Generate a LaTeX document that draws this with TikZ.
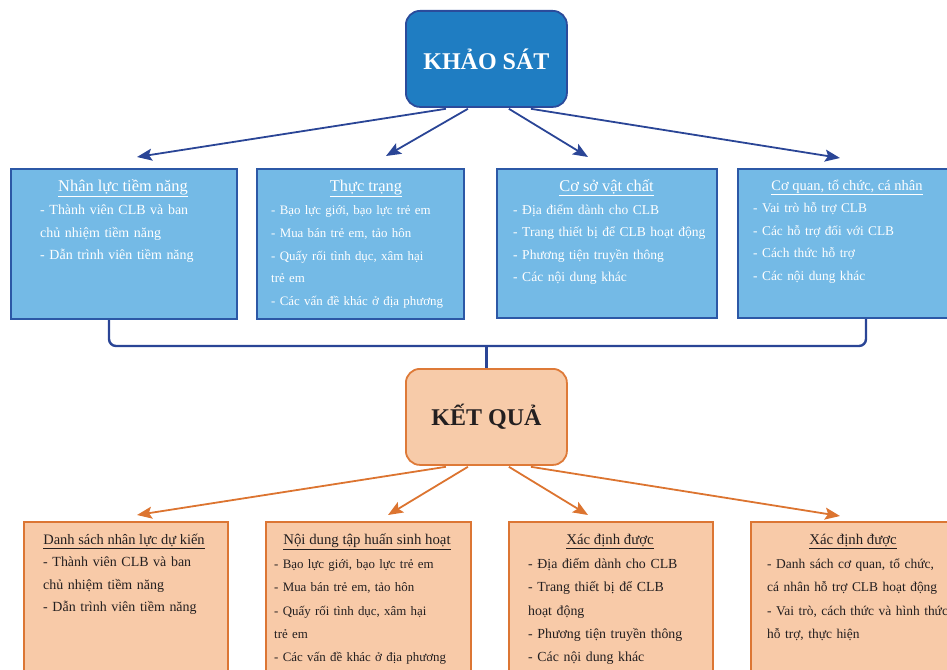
\documentclass[tikz,border=0pt]{standalone}
\usepackage{fontspec}
\setmainfont{Liberation Serif}
\usetikzlibrary{arrows.meta,calc}
\definecolor{ksfill}{RGB}{31,125,194}
\definecolor{ksborder}{RGB}{43,75,155}
\definecolor{bfill}{RGB}{116,186,230}
\definecolor{bborder}{RGB}{44,88,166}
\definecolor{conncol}{RGB}{42,69,150}
\definecolor{kqfill}{RGB}{247,203,169}
\definecolor{kqborder}{RGB}{222,122,56}
\definecolor{ofill}{RGB}{248,202,168}
\definecolor{oborder}{RGB}{220,118,52}
\definecolor{ocol}{RGB}{220,116,48}
\definecolor{darktext}{RGB}{35,31,32}
\begin{document}
\begin{tikzpicture}[x=1pt,y=-1pt,
  mainbox/.style={line width=1.8pt, rounded corners=14pt, minimum width=161pt,
    minimum height=96pt, anchor=north west, inner sep=0pt,
    font=\fontsize{24}{28}\selectfont\bfseries},
  ksbox/.style={mainbox, draw=ksborder, fill=ksfill, text=white},
  kqbox/.style={mainbox, draw=kqborder, fill=kqfill, text=darktext},
  bluebox/.style={draw=bborder, fill=bfill, line width=2pt, anchor=north west, inner sep=0pt},
  orangebox/.style={draw=oborder, fill=ofill, line width=2pt, anchor=north west, inner sep=0pt},
  btitle/.style={anchor=base, inner sep=0pt, text=white, font=\fontsize{16.4}{20}\selectfont},
  otitle/.style={anchor=base, inner sep=0pt, text=darktext, font=\fontsize{14.8}{18}\selectfont},
  bbody/.style={anchor=base west, inner sep=0pt, text=white, align=left, text width=205pt},
  obody/.style={anchor=base west, inner sep=0pt, text=darktext, align=left, text width=205pt},
  barrow/.style={draw=conncol, line width=1.8pt, -{Stealth[length=15pt,width=12pt,inset=3pt]}},
  oarrow/.style={draw=ocol, line width=1.8pt, -{Stealth[length=15pt,width=12pt,inset=3pt]}},
  conn/.style={draw=conncol, line width=2.4pt, rounded corners=7pt}
]
\useasboundingbox (0,0) rectangle (947,669);
\clip (0,0) rectangle (947,669);

% main boxes
\node[ksbox] (ks) at (405,10) {KHẢO SÁT};
\node[kqbox] (kq) at (405,368) {KẾT QUẢ};

% blue boxes
\node[bluebox, minimum width=226pt, minimum height=150pt] (b1) at (10,168) {};
\node[bluebox, minimum width=207pt, minimum height=150pt] (b2) at (256,168) {};
\node[bluebox, minimum width=220pt, minimum height=149pt] (b3) at (496,168) {};
\node[bluebox, minimum width=220pt, minimum height=149pt] (b4) at (737,168) {};

\node[btitle] (bt1) at (123,191) {\underline{Nhân lực tiềm năng}};
\node[btitle] (bt2) at (366,191) {\underline{Thực trạng}};
\node[btitle] (bt3) at (606.5,191) {\underline{Cơ sở vật chất}};
\node[btitle, font=\fontsize{14.5}{18}\selectfont] (bt4) at (847,190) {\underline{Cơ quan, tổ chức, cá nhân}};

\node[bbody, font=\fontsize{13.95}{22.5}\selectfont] (bb1) at (40,214.5)
  {\makebox[165pt][s]{- Thành viên CLB và ban}\\chủ nhiệm tiềm năng\\- Dẫn trình viên tiềm năng};
\node[bbody, font=\fontsize{12.9}{22.75}\selectfont] (bb2) at (271,214.5)
  {- Bạo lực giới, bạo lực trẻ em\\- Mua bán trẻ em, tảo hôn\\- Quấy rối tình dục, xâm hại\\trẻ em\\- Các vấn đề khác ở địa phương};
\node[bbody, font=\fontsize{13.55}{22.4}\selectfont] (bb3) at (513,214.5)
  {- Địa điểm dành cho CLB\\- Trang thiết bị để CLB hoạt động\\- Phương tiện truyền thông\\- Các nội dung khác};
\node[bbody, font=\fontsize{13.35}{22.7}\selectfont] (bb4) at (753,212.5)
  {- Vai trò hỗ trợ CLB\\- Các hỗ trợ đối với CLB\\- Cách thức hỗ trợ\\- Các nội dung khác};

% orange boxes
\node[orangebox, minimum width=204pt, minimum height=155pt] (o1) at (23,521) {};
\node[orangebox, minimum width=205pt, minimum height=155pt] (o2) at (265,521) {};
\node[orangebox, minimum width=204pt, minimum height=155pt] (o3) at (508,521) {};
\node[orangebox, minimum width=210pt, minimum height=155pt] (o4) at (750,521) {};

\node[otitle, font=\fontsize{14.45}{18}\selectfont] (ot1) at (124,544.5) {\underline{Danh sách nhân lực dự kiến}};
\node[otitle] (ot2) at (367,544.5) {\underline{Nội dung tập huấn sinh hoạt}};
\node[otitle] (ot3) at (610,544.5) {\underline{Xác định được}};
\node[otitle] (ot4) at (853,544.5) {\underline{Xác định được}};

\node[obody, font=\fontsize{13.95}{22.5}\selectfont] (ob1) at (43,566.5)
  {\makebox[164pt][s]{- Thành viên CLB và ban}\\chủ nhiệm tiềm năng\\- Dẫn trình viên tiềm năng};
\node[obody, font=\fontsize{12.9}{23.25}\selectfont] (ob2) at (274,568.5)
  {- Bạo lực giới, bạo lực trẻ em\\- Mua bán trẻ em, tảo hôn\\- Quấy rối tình dục, xâm hại\\trẻ em\\- Các vấn đề khác ở địa phương};
\node[obody, font=\fontsize{13.85}{23.25}\selectfont] (ob3) at (528,568.5)
  {- Địa điểm dành cho CLB\\- Trang thiết bị để CLB\\hoạt động\\- Phương tiện truyền thông\\- Các nội dung khác};
\node[obody, font=\fontsize{13.45}{23.25}\selectfont] (ob4) at (767,568.5)
  {- Danh sách cơ quan, tổ chức,\\cá nhân hỗ trợ CLB hoạt động\\- Vai trò, cách thức và hình thức\\hỗ trợ, thực hiện};

% arrow end points
\coordinate (be1) at (137,157);
\coordinate (be2) at (386,156);
\coordinate (be3) at (588,157);
\coordinate (be4) at (840,158);
\coordinate (oe1) at (137,515);
\coordinate (oe2) at (388,515);
\coordinate (oe3) at (588,515);
\coordinate (oe4) at (840,516);

\draw[barrow] ($(ks.south)+(-40.5,1)$) -- (be1);
\draw[barrow] ($(ks.south)+(-18.5,1)$) -- (be2);
\draw[barrow] ($(ks.south)+(22.5,1)$) -- (be3);
\draw[barrow] ($(ks.south)+(44.5,1)$) -- (be4);

\draw[oarrow] ($(kq.south)+(-40.5,1)$) -- (oe1);
\draw[oarrow] ($(kq.south)+(-18.5,1)$) -- (oe2);
\draw[oarrow] ($(kq.south)+(22.5,1)$) -- (oe3);
\draw[oarrow] ($(kq.south)+(44.5,1)$) -- (oe4);

% bracket connector
\coordinate (jn) at ($(kq.north)+(0,-22)$);
\draw[conn] ($(b1.south)+(-15,0)$) |- (jn) -| ($(b4.south)+(18,0)$);
\draw[draw=conncol, line width=2.4pt] (jn) -- (kq.north);
\end{tikzpicture}
\end{document}
